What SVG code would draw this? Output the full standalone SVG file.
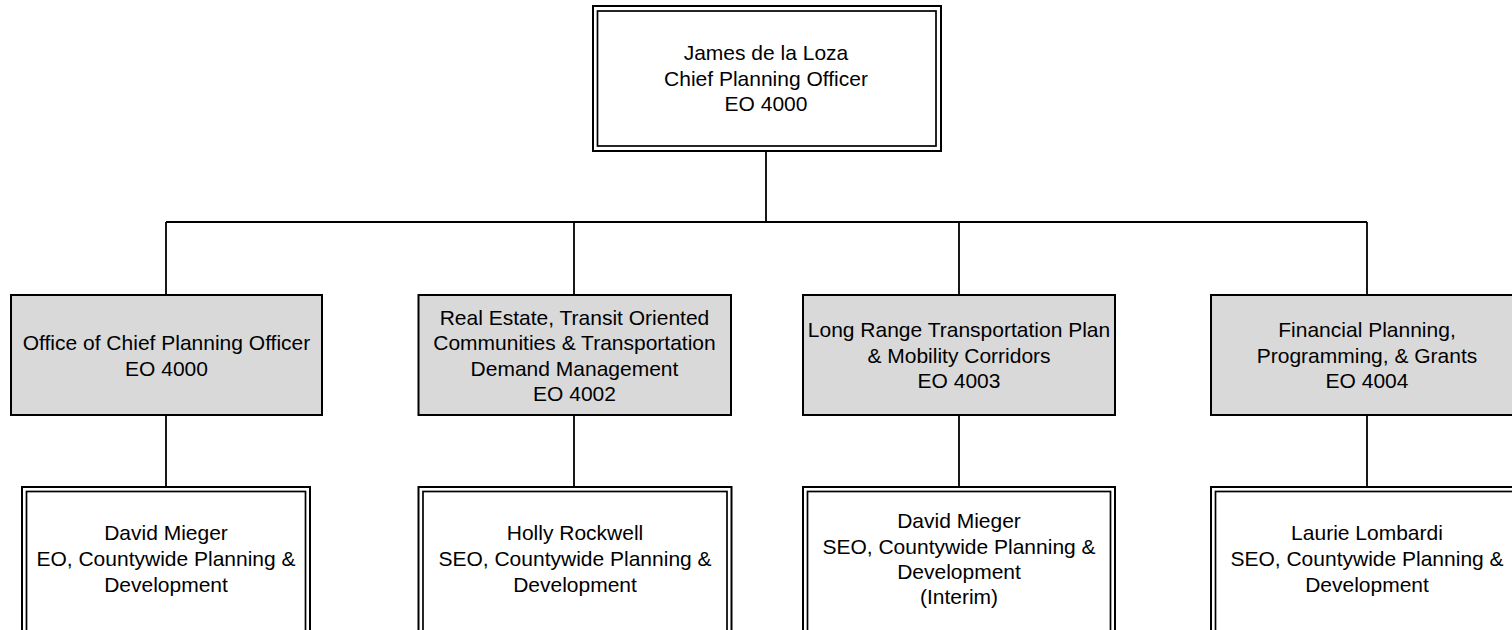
<svg xmlns="http://www.w3.org/2000/svg" width="1512" height="630" viewBox="0 0 1512 630">
<style>
  text { font-family: "Liberation Sans", Arial, sans-serif; font-size: 21px; fill: #000; text-anchor: middle; }
  .outer { fill: #fff; stroke: #000; stroke-width: 2; }
  .inner { fill: none; stroke: #000; stroke-width: 1.7; }
  .unit { fill: #d9d9d9; stroke: #000; stroke-width: 2; }
  .conn { fill: none; stroke: #000; stroke-width: 1.8; }
</style>
<rect width="1512" height="630" fill="#fff"/>
<g id="connectors">
  <path class="conn" d="M766 151 V222 M166 222 H1367 M166 222 V295 M574 222 V295 M959 222 V295 M1367 222 V295"/>
  <path class="conn" d="M166 415 V487 M574 415 V487 M959 415 V487 M1367 415 V487"/>
</g>
<g id="chief">
  <rect class="outer" x="593" y="6" width="348" height="145"/>
  <rect class="inner" x="597.5" y="11" width="338.5" height="135"/>
  <text x="766" y="60">James de la Loza</text>
  <text x="766" y="85.5">Chief Planning Officer</text>
  <text x="766" y="111">EO 4000</text>
</g>
<g id="unit1">
  <rect class="unit" x="11" y="295" width="311" height="120"/>
  <text x="166.5" y="349.5">Office of Chief Planning Officer</text>
  <text x="166.5" y="375.5">EO 4000</text>
</g>
<g id="unit2">
  <rect class="unit" x="418.5" y="295" width="312.5" height="120"/>
  <text x="574.5" y="324.5">Real Estate, Transit Oriented</text>
  <text x="574.5" y="350">Communities &amp; Transportation</text>
  <text x="574.5" y="375.5">Demand Management</text>
  <text x="574.5" y="401">EO 4002</text>
</g>
<g id="unit3">
  <rect class="unit" x="803" y="295" width="312" height="120"/>
  <text x="959" y="337">Long Range Transportation Plan</text>
  <text x="959" y="362.5">&amp; Mobility Corridors</text>
  <text x="959" y="388">EO 4003</text>
</g>
<g id="unit4">
  <rect class="unit" x="1211" y="295" width="312" height="120"/>
  <text x="1367" y="337">Financial Planning,</text>
  <text x="1367" y="362.5">Programming, &amp; Grants</text>
  <text x="1367" y="388">EO 4004</text>
</g>
<g id="head1">
  <rect class="outer" x="22" y="487" width="288" height="160"/>
  <rect class="inner" x="26.5" y="491.5" width="279" height="150"/>
  <text x="166" y="540">David Mieger</text>
  <text x="166" y="566">EO, Countywide Planning &amp;</text>
  <text x="166" y="591.5">Development</text>
</g>
<g id="head2">
  <rect class="outer" x="418.5" y="487" width="313" height="160"/>
  <rect class="inner" x="423" y="491.5" width="304" height="150"/>
  <text x="575" y="540">Holly Rockwell</text>
  <text x="575" y="566">SEO, Countywide Planning &amp;</text>
  <text x="575" y="591.5">Development</text>
</g>
<g id="head3">
  <rect class="outer" x="803" y="487" width="312" height="160"/>
  <rect class="inner" x="807.5" y="491.5" width="303" height="150"/>
  <text x="959" y="528">David Mieger</text>
  <text x="959" y="553.5">SEO, Countywide Planning &amp;</text>
  <text x="959" y="578.5">Development</text>
  <text x="959" y="603.5">(Interim)</text>
</g>
<g id="head4">
  <rect class="outer" x="1211" y="487" width="312" height="160"/>
  <rect class="inner" x="1215.5" y="491.5" width="303" height="150"/>
  <text x="1367" y="540">Laurie Lombardi</text>
  <text x="1367" y="566">SEO, Countywide Planning &amp;</text>
  <text x="1367" y="591.5">Development</text>
</g>
</svg>
